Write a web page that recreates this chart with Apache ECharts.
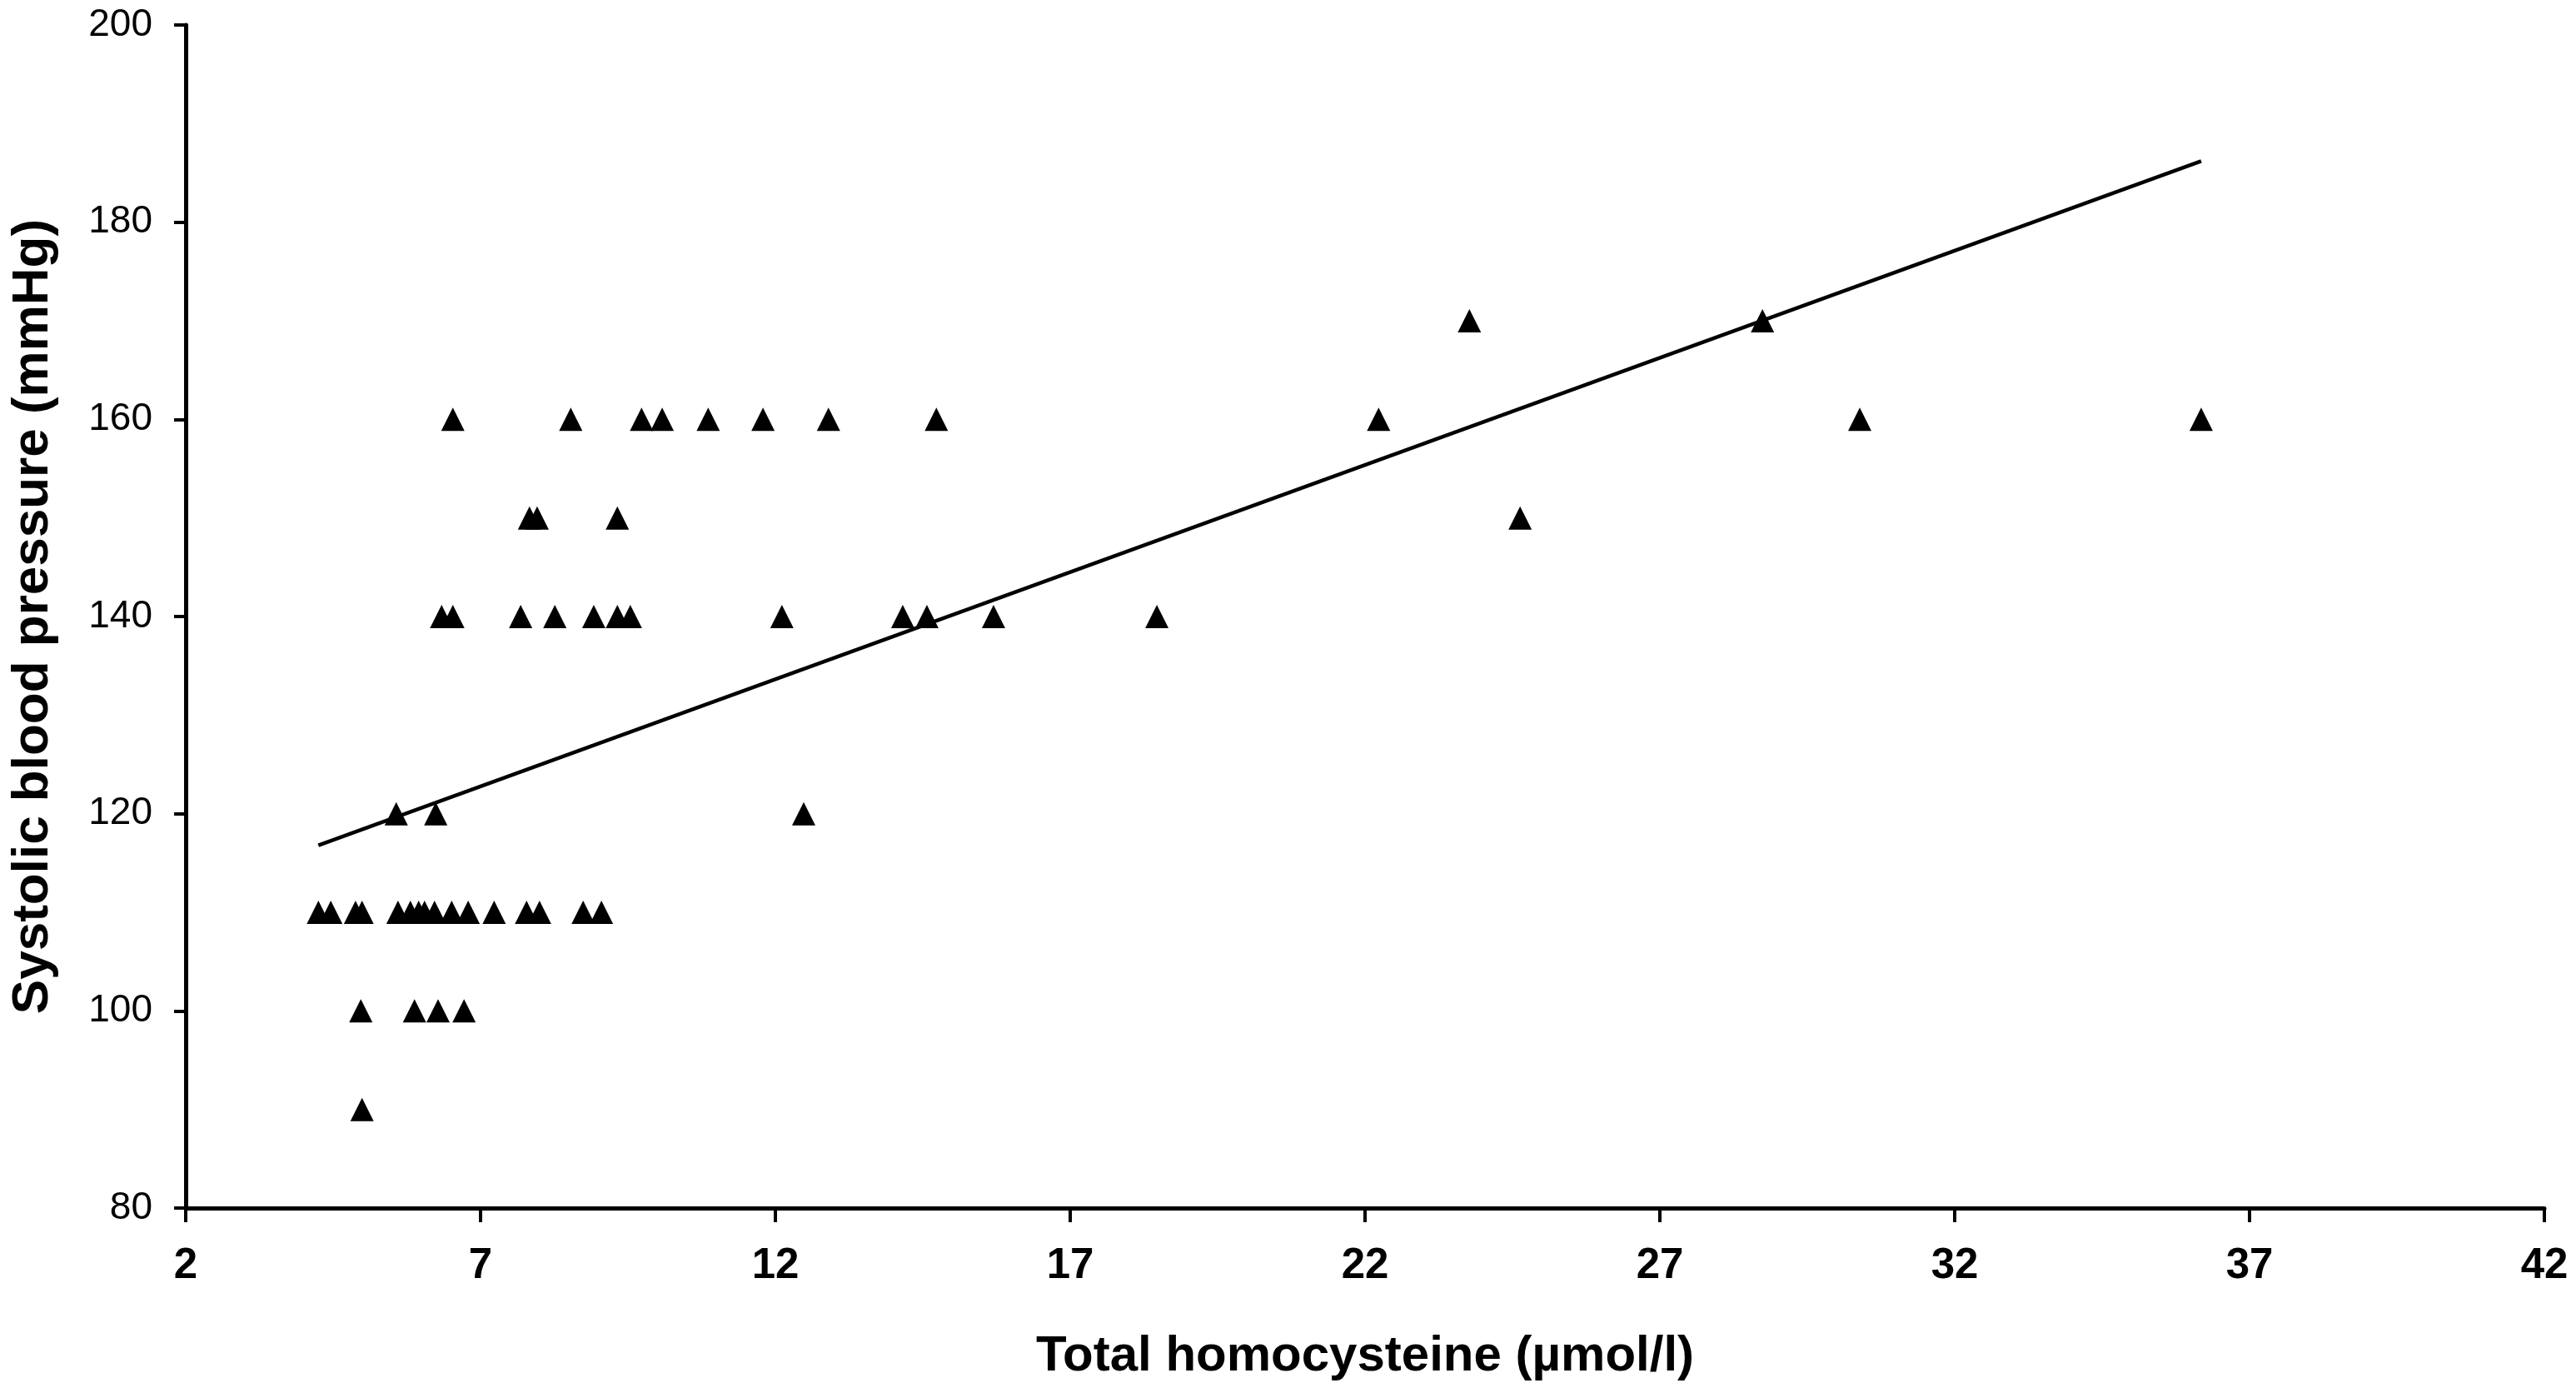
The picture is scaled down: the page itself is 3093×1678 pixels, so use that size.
<!DOCTYPE html>
<html>
<head>
<meta charset="utf-8">
<script src="https://cdn.jsdelivr.net/npm/echarts@6/dist/echarts.min.js"></script>
<style>
html,body{margin:0;padding:0;background:#fff;}
#chart{width:3093px;height:1678px;}
</style>
</head>
<body>
<div id="chart"></div>
<script>
// Total homocysteine (µmol/l) values
var hcy = [
  4.99,
  4.97, 5.88, 6.28, 6.72,
  4.25, 4.46, 4.88, 4.99, 5.60, 5.81, 5.95, 6.05, 6.22, 6.51, 6.79, 7.23, 7.78, 8.00, 8.74, 9.05,
  5.57, 6.24, 12.48,
  6.34, 6.53, 7.68, 8.26, 8.92, 9.32, 9.54, 12.11, 14.16, 14.57, 15.70, 18.47,
  7.83, 7.96, 9.32, 24.63,
  6.53, 8.53, 9.73, 10.08, 10.86, 11.79, 12.90, 14.73, 22.23, 30.39, 36.18,
  23.77, 28.74
];
// Systolic blood pressure (mmHg) values
var sbp = [
  90,
  100, 100, 100, 100,
  110, 110, 110, 110, 110, 110, 110, 110, 110, 110, 110, 110, 110, 110, 110, 110,
  120, 120, 120,
  140, 140, 140, 140, 140, 140, 140, 140, 140, 140, 140, 140,
  150, 150, 150, 150,
  160, 160, 160, 160, 160, 160, 160, 160, 160, 160, 160,
  170, 170
];
// Regression line end points
var trendX = [4.25, 36.18];
var trendY = [116.8, 186.2];

var xTitle = 'Total homocysteine (\u00b5mol/l)';
var yTitle = 'Systolic blood pressure (mmHg)';

var points = hcy.map(function (v, i) { return [v, sbp[i]]; });
var trend = trendX.map(function (v, i) { return [v, trendY[i]]; });

var font = "'Liberation Sans', Arial, sans-serif";
var chart = echarts.init(document.getElementById('chart'), null, {renderer: 'canvas'});
chart.setOption({
  animation: false,
  backgroundColor: '#ffffff',
  grid: {left: 223, right: 38, top: 30, bottom: 228, containLabel: false},
  xAxis: {
    type: 'value', min: 2, max: 42, interval: 5,
    name: xTitle, nameLocation: 'middle', nameGap: 148,
    nameTextStyle: {fontFamily: font, fontWeight: 'bold', fontSize: 60, color: '#000'},
    axisLine: {show: true, onZero: false, lineStyle: {color: '#000', width: 5}},
    axisTick: {show: true, inside: false, length: 17, lineStyle: {color: '#000', width: 4}},
    axisLabel: {fontFamily: font, fontWeight: 'bold', fontSize: 51, color: '#000', margin: 44},
    splitLine: {show: false}
  },
  yAxis: {
    type: 'value', min: 80, max: 200, interval: 20,
    name: yTitle, nameLocation: 'middle', nameGap: 152,
    nameTextStyle: {fontFamily: font, fontWeight: 'bold', fontSize: 62, color: '#000'},
    axisLine: {show: true, onZero: false, lineStyle: {color: '#000', width: 5}},
    axisTick: {show: true, inside: false, length: 14, lineStyle: {color: '#000', width: 4}},
    axisLabel: {fontFamily: font, fontSize: 46, color: '#000', margin: 40},
    splitLine: {show: false}
  },
  series: [
    {
      type: 'scatter', data: points, symbol: 'triangle', symbolSize: 28,
      itemStyle: {color: '#000', opacity: 1}, silent: true
    },
    {
      type: 'line', data: trend, showSymbol: false, symbol: 'none',
      lineStyle: {color: '#000', width: 4.5}, silent: true
    }
  ]
});
</script>
</body>
</html>
